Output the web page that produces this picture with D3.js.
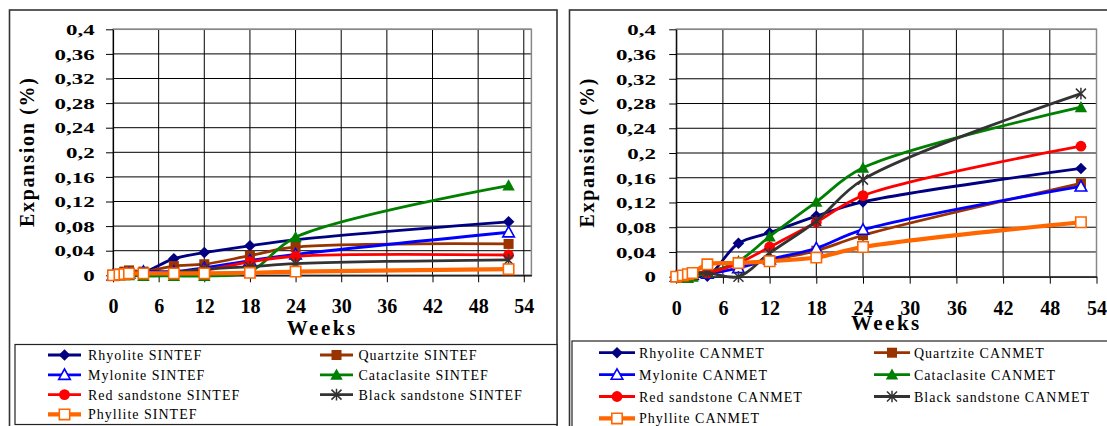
<!DOCTYPE html>
<html><head><meta charset="utf-8">
<script src="https://cdn.jsdelivr.net/npm/d3@7"></script>
<style>
body{margin:0;background:#fff} svg{display:block}
</style>
</head><body>
<svg id="c" width="1107" height="426"></svg>
<script>
// ---------------- DATA ----------------
const weeks = [0, 0.85, 1.5, 2.1, 4, 8, 12, 18, 24, 52];
const xTicks = [0, 6, 12, 18, 24, 30, 36, 42, 48, 54];
const yTicks = [0, 0.04, 0.08, 0.12, 0.16, 0.2, 0.24, 0.28, 0.32, 0.36, 0.4];
const seriesNames = ["Rhyolite", "Quartzite", "Mylonite", "Cataclasite", "Red sandstone", "Black sandstone", "Phyllite"];

const sintefRhyolite    = [0, 0.002, 0.004, 0.005, 0.005, 0.027, 0.037, 0.048, 0.058, 0.087];
const sintefQuartzite   = [0, 0.003, 0.006, 0.008, 0.006, 0.015, 0.018, 0.032, 0.046, 0.051];
const sintefMylonite    = [0, 0.001, 0.002, 0.003, 0.006, 0.006, 0.012, 0.024, 0.034, 0.070];
const sintefCataclasite = [0, 0, 0, 0, -0.001, -0.001, -0.001, 0.006, 0.062, 0.146];
const sintefRed         = [0, 0.001, 0.002, 0.003, 0.004, 0.005, 0.008, 0.022, 0.031, 0.033];
const sintefBlack       = [0, 0.001, 0.002, 0.003, 0.004, 0.005, 0.010, 0.014, 0.019, 0.025];
const sintefPhyllite    = [0, 0.001, 0.002, 0.003, 0.003, 0.003, 0.003, 0.004, 0.006, 0.010];

const canmetRhyolite    = [0, 0.002, 0.003, 0.003, 0.001, 0.054, 0.071, 0.098, 0.121, 0.175];
const canmetQuartzite   = [0, 0.002, 0.004, 0.006, 0.008, 0.020, 0.027, 0.042, 0.067, 0.151];
const canmetMylonite    = [0, 0.001, 0.002, 0.003, 0.005, 0.014, 0.028, 0.046, 0.076, 0.146];
const canmetCataclasite = [0, -0.002, -0.002, 0, 0.006, 0.025, 0.065, 0.121, 0.176, 0.274];
const canmetRed         = [0, 0.001, 0.002, 0.004, 0.006, 0.022, 0.048, 0.088, 0.131, 0.211];
const canmetBlack       = [0, 0.001, 0.002, 0.004, 0.006, 0.000, 0.038, 0.090, 0.157, 0.296];
const canmetPhyllite    = [0, 0.002, 0.004, 0.006, 0.020, 0.022, 0.025, 0.031, 0.048, 0.088];

// styles
const seriesColors = ["#000080", "#993300", "#0000ff", "#008000", "#ff0000", "#333333", "#ff6600"];
const markerKinds = ["diamond", "square", "triangleOpen", "triangle", "circle", "star", "squareOpen"];
const lineWidths = [2.8, 2.8, 2.8, 2.8, 2.8, 2.8, 4.2];
const FONT = '"Liberation Serif", "Times New Roman", serif';

const svg = d3.select("#c");
svg.append("rect").attr("width", 1107).attr("height", 426).attr("fill", "#fff");

const fmtY = d => d === 0 ? "0" : String(d).replace(".", ",");

function drawMarker(g, kind, color, x, y) {
  let el;
  switch (kind) {
    case "diamond":
      el = g.append("path").attr("d", "M0,-5.8L5.8,0L0,5.8L-5.8,0Z").attr("fill", color); break;
    case "square":
      el = g.append("path").attr("d", "M-5,-5h10v10h-10Z").attr("fill", color); break;
    case "triangleOpen":
      el = g.append("path").attr("d", "M0,-5.8L5.8,4.6L-5.8,4.6Z").attr("fill", "#fff").attr("stroke", color).attr("stroke-width", 1.6); break;
    case "triangle":
      el = g.append("path").attr("d", "M0,-6.2L6.2,5L-6.2,5Z").attr("fill", color); break;
    case "circle":
      el = g.append("circle").attr("r", 5.4).attr("fill", color); break;
    case "star":
      el = g.append("path").attr("d", "M0,-5.8V5.8M-5,-5L5,5M-5,5L5,-5").attr("fill", "none").attr("stroke", color).attr("stroke-width", 1.5); break;
    case "squareOpen":
      el = g.append("path").attr("d", "M-5.2,-5.2h10.4v10.4h-10.4Z").attr("fill", "#fff").attr("stroke", color).attr("stroke-width", 1.6); break;
  }
  el.attr("transform", `translate(${x},${y})`);
}

function drawPanel(cfg) {
  const g = svg.append("g");
  g.append("rect").attr("x", cfg.frameX).attr("y", 10).attr("width", cfg.frameW).attr("height", 430)
    .attr("fill", "#fff").attr("stroke", "#333").attr("stroke-width", 1.6);

  const x = d3.scaleLinear().domain([0, cfg.xMax]).range([cfg.px0, cfg.px1]);
  const y = d3.scaleLinear().domain([0, 0.4]).range([cfg.py0, cfg.py1]);

  g.append("g").selectAll("line").data(yTicks).join("line")
    .attr("x1", cfg.px0).attr("x2", cfg.px1).attr("y1", d => y(d)).attr("y2", d => y(d))
    .attr("stroke", "#000").attr("stroke-width", 1);
  g.append("g").selectAll("line").data(xTicks.filter(d => d > 0)).join("line")
    .attr("x1", d => x(d)).attr("x2", d => x(d)).attr("y1", cfg.py1).attr("y2", cfg.py0)
    .attr("stroke", "#000").attr("stroke-width", 1);
  g.append("rect").attr("x", cfg.px0).attr("y", cfg.py1).attr("width", cfg.px1 - cfg.px0).attr("height", cfg.py0 - cfg.py1)
    .attr("fill", "none").attr("stroke", "#888").attr("stroke-width", 1.5);

  const ya = g.append("g").attr("transform", `translate(${cfg.px0},0)`)
    .call(d3.axisLeft(y).tickValues(yTicks).tickSize(7).tickSizeOuter(0).tickFormat(fmtY));
  ya.attr("font-family", null).attr("font-size", null);
  ya.select(".domain").attr("stroke", "#000").attr("stroke-width", 1.2);
  ya.selectAll(".tick line").attr("stroke", "#000");
  ya.selectAll("text")
    .style("font-family", FONT)
    .style("font-weight", "bold").style("font-size", "15.5px").attr("fill", "#000")
    .attr("x", -cfg.yLabOff / 1.48).attr("dy", "0.34em")
    .attr("transform", "scale(1.48,1)");

  const xa = g.append("g").attr("transform", `translate(0,${cfg.py0})`)
    .call(d3.axisBottom(x).tickValues(xTicks).tickSize(7).tickSizeOuter(0).tickPadding(cfg.xPad));
  xa.attr("font-family", null).attr("font-size", null);
  xa.select(".domain").attr("stroke", "#000").attr("stroke-width", 1.2);
  xa.selectAll(".tick line").attr("stroke", "#000");
  xa.selectAll("text")
    .style("font-family", FONT)
    .style("font-weight", "bold").style("font-size", "20px").attr("fill", "#000");

  g.append("text").attr("x", (cfg.px0 + cfg.px1) / 2).attr("y", cfg.weeksY)
    .attr("text-anchor", "middle").style("font-family", FONT)
    .style("font-weight", "bold").style("font-size", "21px").style("letter-spacing", "2.5px").text("Weeks");
  g.append("text").attr("transform", `translate(${cfg.yTitleX},${cfg.yTitleY}) rotate(-90)`)
    .attr("text-anchor", "middle").style("font-family", FONT)
    .style("font-weight", "bold").style("font-size", "20px")
    .attr("textLength", 149).attr("lengthAdjust", "spacing").text("Expansion (%)");

  const line = d3.line().x(d => x(d[0])).y(d => y(d[1])).curve(d3.curveCatmullRom.alpha(0.5));
  const sg = g.append("g");
  cfg.series.forEach((vals, i) => {
    const pts = weeks.map((w, k) => [w, vals[k]]);
    sg.append("path").attr("d", line(pts)).attr("fill", "none")
      .attr("stroke", seriesColors[i]).attr("stroke-width", lineWidths[i]).attr("stroke-linejoin", "round");
    pts.forEach(p => drawMarker(sg, markerKinds[i], seriesColors[i], x(p[0]), y(p[1])));
  });

  const lg = g.append("g");
  lg.append("rect").attr("x", cfg.legX).attr("y", cfg.legY).attr("width", cfg.legW).attr("height", cfg.legH)
    .attr("fill", "#fff").attr("stroke", "#222").attr("stroke-width", 1.2);
  seriesNames.forEach((name, i) => {
    const row = Math.floor(i / 2), col = i % 2;
    const cy = cfg.legRow0 + row * cfg.legRowH;
    const lx = cfg.legLineX[col];
    lg.append("line").attr("x1", lx).attr("x2", lx + cfg.legLineW).attr("y1", cy).attr("y2", cy)
      .attr("stroke", seriesColors[i]).attr("stroke-width", lineWidths[i]);
    drawMarker(lg, markerKinds[i], seriesColors[i], lx + cfg.legLineW / 2, cy);
    lg.append("text").attr("x", cfg.legTextX[col]).attr("y", cy + 5)
      .style("font-family", FONT)
      .style("font-size", "14px").style("letter-spacing", "1px").attr("fill", "#000")
      .text(name + " " + cfg.lab);
  });
}

drawPanel({
  lab: "SINTEF", frameX: 9.5, frameW: 547.5,
  xMax: 55, px0: 113, px1: 531.4, py0: 275.3, py1: 29.3,
  yLabOff: 18.3, xPad: 16.8, weeksY: 335, yTitleX: 34, yTitleY: 152.5,
  series: [sintefRhyolite, sintefQuartzite, sintefMylonite, sintefCataclasite, sintefRed, sintefBlack, sintefPhyllite],
  legX: 15, legY: 344.5, legW: 542, legH: 80,
  legRow0: 355, legRowH: 19.8, legLineX: [48, 320], legLineW: 33, legTextX: [88, 358.5]
});
drawPanel({
  lab: "CANMET", frameX: 569.5, frameW: 560,
  xMax: 54, px0: 676.2, px1: 1096.5, py0: 276.7, py1: 29.3,
  yLabOff: 20.2, xPad: 17, weeksY: 330, yTitleX: 594, yTitleY: 153,
  series: [canmetRhyolite, canmetQuartzite, canmetMylonite, canmetCataclasite, canmetRed, canmetBlack, canmetPhyllite],
  legX: 572, legY: 341, legW: 560, legH: 100,
  legRow0: 352.7, legRowH: 21.9, legLineX: [599, 874], legLineW: 36, legTextX: [639, 914]
});
</script>
</body></html>
